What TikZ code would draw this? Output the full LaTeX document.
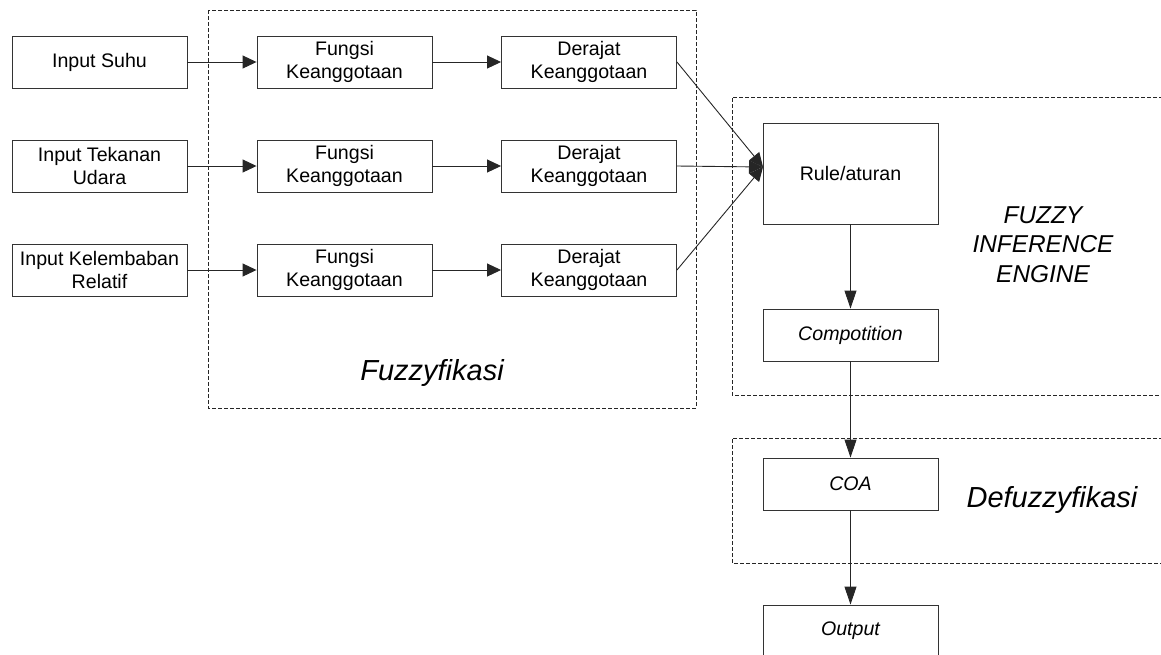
\documentclass[tikz,border=0pt]{standalone}
\usepackage{fontspec}
\setmainfont{Liberation Sans}
\usetikzlibrary{arrows.meta}
\begin{document}
\begin{tikzpicture}[x=1pt,y=-1pt,
  blk/.style={draw=black!80,line width=0.9pt,rectangle,inner sep=0pt,minimum width=175pt,minimum height=52pt,align=center,font=\fontsize{19.6}{23.5}\selectfont},
  grp/.style={draw=black!85,line width=0.9pt,dash pattern=on 4pt off 2pt},
  arr/.style={draw=black!85,line width=0.9pt,-{Triangle[length=14pt,width=13pt]}},
  varr/.style={draw=black!85,line width=0.9pt,-{Triangle[length=18pt,width=12pt]}},
  big/.style={font=\fontsize{29}{34}\selectfont\itshape,inner sep=0pt},
  mid/.style={font=\fontsize{24.4}{29.5}\selectfont\itshape,inner sep=0pt,align=center}]
\useasboundingbox (0,0) rectangle (1161,654);
\clip (0,0) rectangle (1161,654);
% group frames
\draw[grp] (208,10) rectangle (696,408);
\draw[grp] (1163,97) -- (732,97) -- (732,395) -- (1163,395);
\draw[grp] (1163,438) -- (732,438) -- (732,563) -- (1163,563);
% blocks
\node[blk] (in1) at (99.5,62) {Input Suhu};
\node[blk] (in2) at (99.5,166) {Input Tekanan\\Udara};
\node[blk] (in3) at (99.5,270) {Input Kelembaban\\Relatif};
\node[blk] (f1) at (344.5,62) {Fungsi\\Keanggotaan};
\node[blk] (f2) at (344.5,166) {Fungsi\\Keanggotaan};
\node[blk] (f3) at (344.5,270) {Fungsi\\Keanggotaan};
\node[blk] (d1) at (589,62) {Derajat\\Keanggotaan};
\node[blk] (d2) at (589,166) {Derajat\\Keanggotaan};
\node[blk] (d3) at (589,270) {Derajat\\Keanggotaan};
\node[blk,minimum height=101pt] (rule) at (850.5,173.5) {Rule/aturan};
\node[blk] (comp) at (850.5,335) {\itshape Compotition};
\node[blk] (coa) at (850.5,484) {\itshape COA};
\node[blk] (out) at (850.5,631) {\itshape Output};
\coordinate (rin) at (763,167);
% labels
\node[big,anchor=base] (lf) at (432,380) {Fuzzyfikasi};
\node[big,anchor=base] (ld) at (1052,507) {Defuzzyfikasi};
\node[mid,anchor=base] (lfie) at (1043,282) {FUZZY\\INFERENCE\\ENGINE};
% connectors
\foreach \i in {1,2,3}{
  \draw[arr] (in\i.east) -- (f\i.west);
  \draw[arr] (f\i.east) -- (d\i.west);
  \draw[arr] (d\i.east) -- (rin);
}
\draw[varr] (rule.south) -- (comp.north);
\draw[varr] (comp.south) -- (coa.north);
\draw[varr] (coa.south) -- (out.north);
\end{tikzpicture}
\end{document}
